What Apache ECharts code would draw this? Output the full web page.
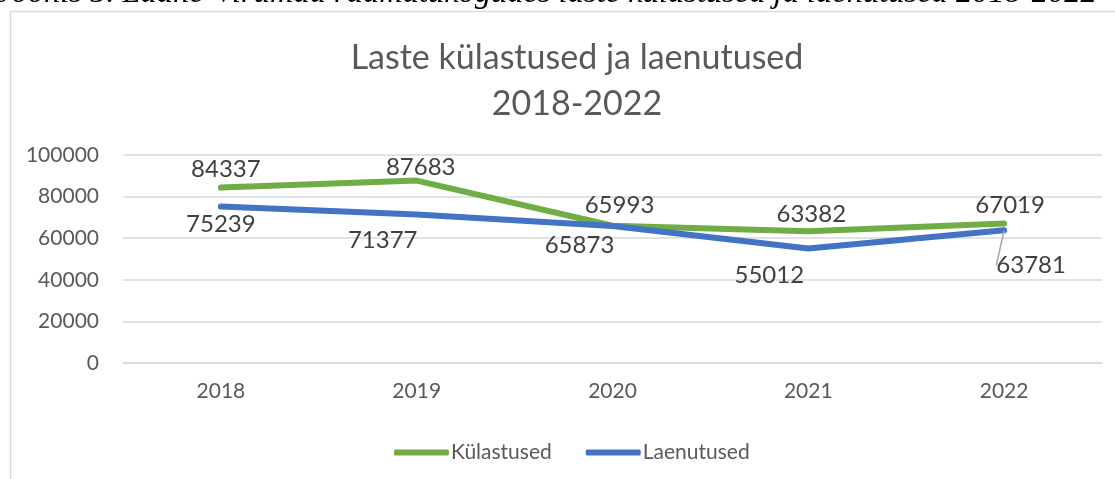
<!DOCTYPE html>
<html>
<head>
<meta charset="utf-8">
<script src="https://cdn.jsdelivr.net/npm/echarts@6/dist/echarts.min.js"></script>
<style>
  html, body { margin: 0; padding: 0; background: #fff; }
  #chart { width: 1115px; height: 479px; }
</style>
</head>
<body>
<div id="chart"></div>
<script>
// andmed
var years = ['2018', '2019', '2020', '2021', '2022'];
var kulastused = [84337, 87683, 65993, 63382, 67019];
var laenutused = [75239, 71377, 65873, 55012, 63781];
var yTicks = [0, 20000, 40000, 60000, 80000, 100000];

var chartDom = document.getElementById('chart');
var myChart = echarts.init(chartDom, null, { renderer: 'canvas' });

var fontFam = 'Lato, "Open Sans", sans-serif';
var textGray = '#595959';

// label nihked (dx, dy) iga punkti kohta
var greenOffsets = [[5, 0], [4, 5], [7, -2], [3, 1], [6, 0]];
var blueOffsets = [[0, 0], [-34, 8], [-33, 1], [-39, 9], [27, 17]];

function offsetLayout(offsets) {
  return function (params) {
    var o = offsets[params.dataIndex];
    return { dx: o[0], dy: o[1] };
  };
}

var blueData = laenutused.map(function (v) { return { value: v }; });
blueData[4].labelLine = { show: true, lineStyle: { color: '#a6a6a6', width: 1.5 } };

var labelStyle = {
  show: true,
  distance: 6,
  fontFamily: fontFam,
  fontSize: 24,
  color: '#404040'
};

var option = {
  backgroundColor: '#fff',
  animation: false,
  title: {
    text: 'Laste külastused ja laenutused\n2018-2022',
    left: 572,
    top: 30,
    textAlign: 'center',
    textStyle: {
      fontFamily: fontFam,
      fontSize: 34,
      fontWeight: 'normal',
      color: textGray,
      lineHeight: 46
    }
  },
  graphic: [
    {
      type: 'rect',
      silent: true,
      shape: { x: 10.5, y: 11.5, width: 1300, height: 700 },
      style: { fill: 'none', stroke: '#d9d9d9', lineWidth: 1.5 }
    },
    {
      type: 'text',
      silent: true,
      left: -3,
      top: -23,
      style: {
        text: 'Joonis 5. Lääne-Virumaa raamatukogudes laste külastused ja laenutused 2018-2022',
        font: 'italic 32.5px "Liberation Serif", serif',
        fill: '#000'
      }
    }
  ],
  legend: {
    left: 389,
    top: 437,
    itemWidth: 55,
    itemHeight: 6,
    itemGap: 34,
    icon: 'roundRect',
    textStyle: { fontFamily: fontFam, fontSize: 21, color: textGray, padding: [0, 0, 0, -3] },
    data: ['Külastused', 'Laenutused']
  },
  grid: { left: 123, right: 13, top: 155, bottom: 116 },
  xAxis: {
    type: 'category',
    data: years,
    boundaryGap: true,
    axisLine: { lineStyle: { color: '#d9d9d9', width: 1.5 } },
    axisTick: { show: false },
    axisLabel: { fontFamily: fontFam, fontSize: 21, color: textGray, margin: 18 }
  },
  yAxis: {
    type: 'value',
    min: yTicks[0],
    max: yTicks[yTicks.length - 1],
    interval: yTicks[1] - yTicks[0],
    axisLine: { show: false },
    axisTick: { show: false },
    splitLine: { lineStyle: { color: '#d9d9d9', width: 1.5 } },
    axisLabel: {
      fontFamily: fontFam, fontSize: 21, color: textGray, margin: 24,
      formatter: function (v) { return String(v); }
    }
  },
  series: [
    {
      name: 'Külastused',
      type: 'line',
      data: kulastused,
      symbol: 'circle',
      symbolSize: 0,
      showSymbol: true,
      itemStyle: { color: '#70ad47' },
      lineStyle: { color: '#70ad47', width: 6, cap: 'round', join: 'round' },
      label: Object.assign({ position: 'top' }, labelStyle),
      labelLayout: offsetLayout(greenOffsets)
    },
    {
      name: 'Laenutused',
      type: 'line',
      data: blueData,
      symbol: 'circle',
      symbolSize: 0,
      showSymbol: true,
      itemStyle: { color: '#4472c4' },
      lineStyle: { color: '#4472c4', width: 6, cap: 'round', join: 'round' },
      label: Object.assign({ position: 'bottom' }, labelStyle),
      labelLayout: offsetLayout(blueOffsets)
    }
  ]
};

myChart.setOption(option);
window.addEventListener('resize', myChart.resize);
</script>
</body>
</html>
